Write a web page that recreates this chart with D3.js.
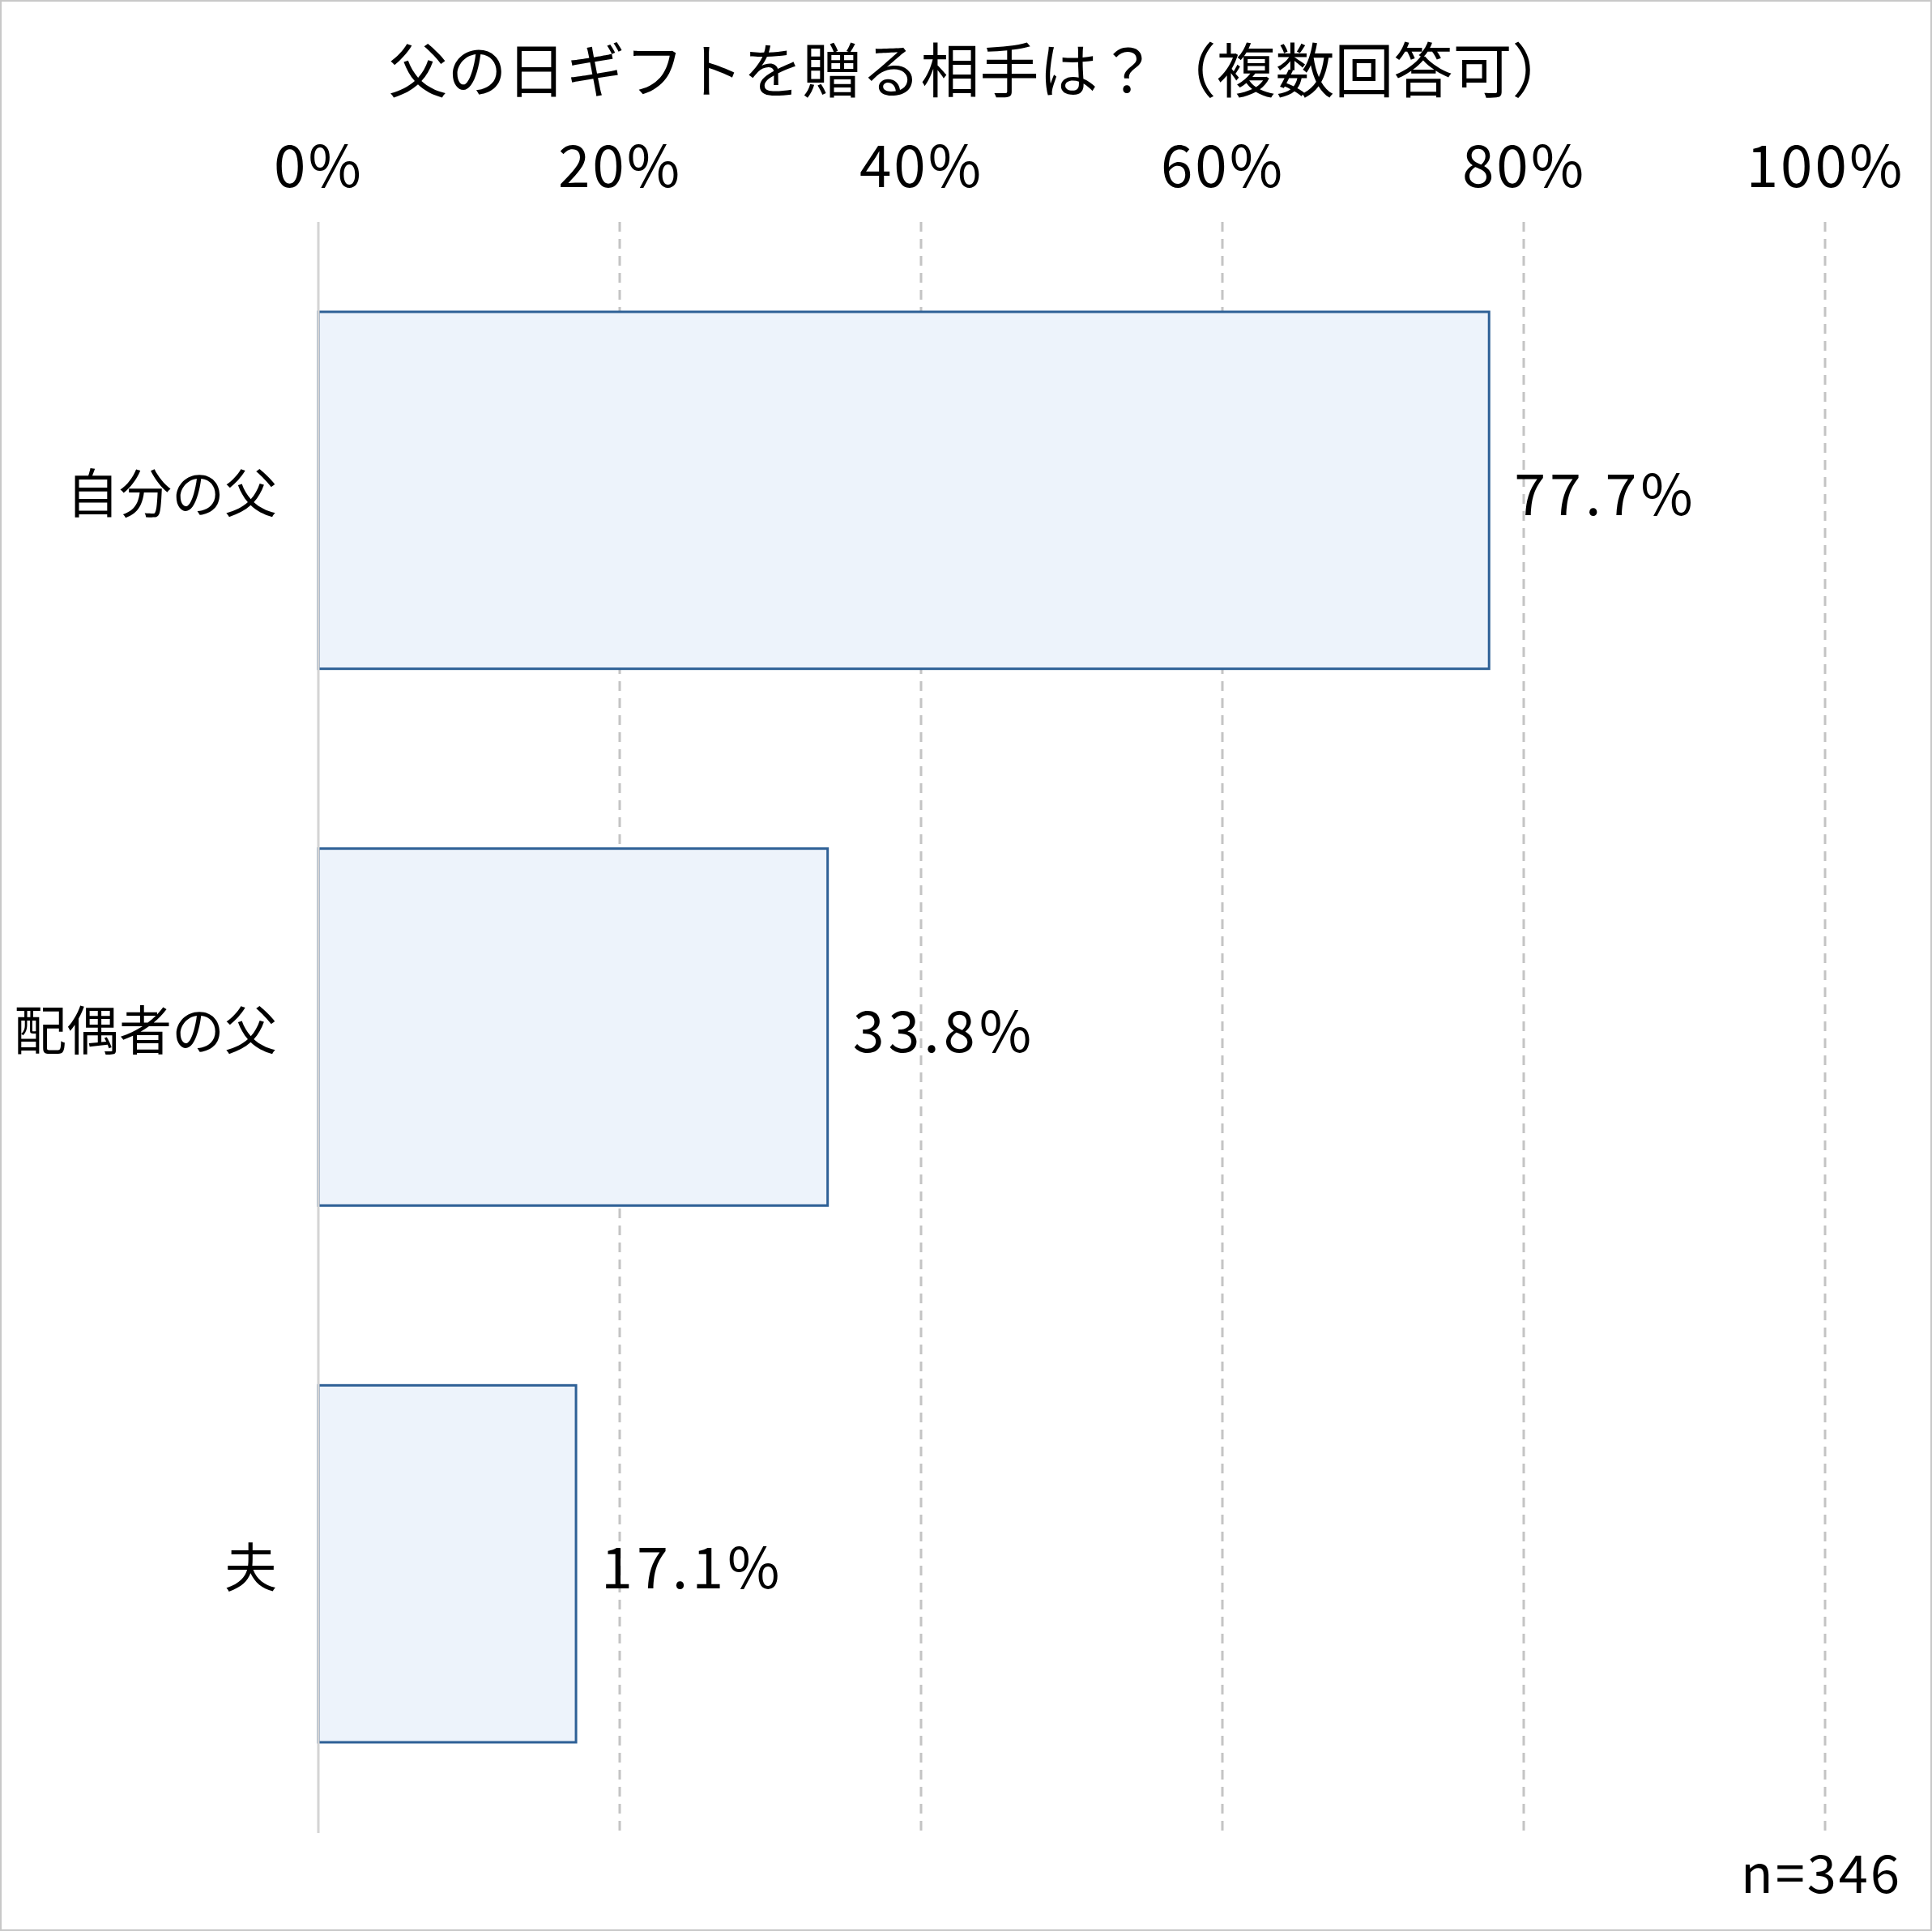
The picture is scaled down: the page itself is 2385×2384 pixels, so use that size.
<!DOCTYPE html>
<html><head><meta charset="utf-8">
<script src="https://cdn.jsdelivr.net/npm/d3@7"></script>
<style>
html,body{margin:0;padding:0;background:#fff;}
svg{display:block;}
text{font-family:"Noto Sans CJK JP","Noto Sans",sans-serif;fill:#000;}
</style></head>
<body>
<script>
const categories = ["自分の父", "配偶者の父", "夫"];
const values = [77.7, 33.8, 17.1];
const tickValues = [0, 20, 40, 60, 80, 100];
const tickLabels = ["0%", "20%", "40%", "60%", "80%", "100%"];
const title = "父の日ギフトを贈る相手は？（複数回答可）";
const note = "n=346";

const W = 2385, H = 2384;
const svg = d3.select("body").append("svg").attr("width", W).attr("height", H);

svg.append("rect").attr("x", 1).attr("y", 1).attr("width", W - 2).attr("height", H - 2)
  .attr("fill", "#fff").attr("stroke", "#c8c8c8").attr("stroke-width", 2);

const x = d3.scaleLinear().domain([0, 100]).range([393, 2253]);
const y = d3.scaleBand().domain(categories).range([274, 2262]).paddingInner(0.335).paddingOuter(0.1675);

// gridlines
svg.append("g").selectAll("line").data(tickValues.slice(1)).join("line")
  .attr("x1", d => x(d)).attr("x2", d => x(d))
  .attr("y1", 274).attr("y2", 2260)
  .attr("stroke", "#c4c4c4").attr("stroke-width", 3).attr("stroke-dasharray", "12,9");

// top axis labels
const axis = d3.axisTop(x).tickValues(tickValues).tickFormat((d, i) => tickLabels[i]).tickSize(0).tickPadding(0);
const ag = svg.append("g").attr("transform", "translate(0,231)").call(axis);
ag.select(".domain").remove();
ag.selectAll("text").attr("font-size", 71).attr("font-family", '"Noto Sans CJK JP",sans-serif')
  .attr("fill", "#000").attr("dy", 0).attr("letter-spacing", 3);

// bars
svg.append("g").selectAll("rect").data(values).join("rect")
  .attr("x", x(0)).attr("y", (d, i) => y(categories[i]))
  .attr("width", d => x(d) - x(0)).attr("height", y.bandwidth())
  .attr("fill", "#edf3fb").attr("stroke", "#2e6096").attr("stroke-width", 3);

// y axis line
svg.append("line").attr("x1", x(0)).attr("x2", x(0)).attr("y1", 274).attr("y2", 2263)
  .attr("stroke", "#d4d4d4").attr("stroke-width", 3);

// category labels
svg.append("g").selectAll("text").data(categories).join("text")
  .attr("x", 342).attr("y", d => y(d) + y.bandwidth() / 2)
  .attr("text-anchor", "end").attr("dominant-baseline", "central")
  .attr("font-size", 65).text(d => d);

// value labels
svg.append("g").selectAll("text").data(values).join("text")
  .attr("x", d => x(d) + 31).attr("y", (d, i) => y(categories[i]) + y.bandwidth() / 2)
  .attr("dominant-baseline", "central").attr("font-size", 70).attr("letter-spacing", 5)
  .text(d => d.toFixed(1) + "%");

// title
svg.append("text").attr("x", W / 2 + 17).attr("y", 114).attr("text-anchor", "middle")
  .attr("font-size", 73).text(title);

// note
svg.append("text").attr("x", 2348).attr("y", 2337).attr("text-anchor", "end")
  .attr("font-size", 65).attr("letter-spacing", 3).text(note);
</script>
</body></html>
